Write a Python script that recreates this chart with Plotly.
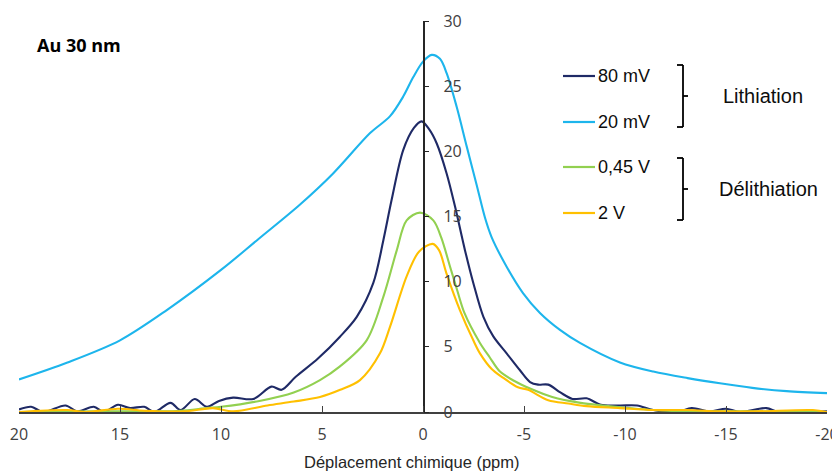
import plotly.graph_objects as go

# ---- data ----
x_20mV = [20, 17.6, 15, 12.7, 10, 8.2, 6.1, 4.45, 2.62, 1.63, 0.98, 0.48, -0.01, -0.43, -0.84, -1.17, -1.67, -2.16, -2.66, -3.07, -3.4, -4.14, -4.95, -5.79, -6.78, -7.77, -9.75, -11.4, -13.1, -14.7, -16.3, -18, -20]
y_20mV = [2.5, 3.8, 5.5, 7.8, 10.9, 13.2, 15.9, 18.3, 21.4, 22.7, 24.2, 25.7, 26.9, 27.4, 27.1, 26.0, 23.4, 20.4, 17.4, 14.9, 13.4, 11.15, 9.13, 7.6, 6.3, 5.3, 3.8, 3.1, 2.6, 2.2, 1.85, 1.6, 1.45]

x_80mV = [20, 19.4, 18.8, 17.7, 17.1, 16.3, 15.8, 15.1, 14.5, 13.8, 13.3, 12.5, 12.0, 11.3, 10.7, 10.1, 9.4, 8.4, 7.5, 7.0, 6.3, 5.2, 4.11, 3.28, 2.46, 1.96, 1.55, 0.98, 0.45, 0.07, -0.3, -0.68, -1.17, -1.58, -2.08, -2.49, -2.99, -3.48, -4.14, -4.8, -5.3, -5.7, -6.2, -6.8, -7.4, -8.1, -8.8, -9.75, -10.6, -11.4, -12.6, -13.3, -14.2, -15.0, -15.7, -17.0, -17.6, -20]
y_80mV = [0.2, 0.4, 0.0, 0.5, 0.05, 0.4, 0.0, 0.55, 0.3, 0.4, 0.0, 0.7, 0.15, 1.0, 0.4, 0.85, 1.1, 1.0, 1.95, 1.7, 2.7, 4.1, 5.78, 7.3, 9.9, 13.2, 16.3, 20.1, 21.8, 22.3, 21.7, 20.6, 18.3, 15.8, 12.4, 9.9, 7.3, 5.8, 4.5, 3.2, 2.3, 2.1, 2.1, 1.5, 1.0, 1.05, 0.55, 0.5, 0.5, 0.15, 0.0, 0.3, 0.05, 0.25, 0.0, 0.3, 0.0, 0.05]

x_045V = [20, 16, 13, 12, 10.7, 10, 8.1, 6.4, 5.1, 4.11, 2.79, 1.96, 1.3, 0.81, 0.15, -0.51, -0.9, -1.34, -1.7, -2.05, -2.82, -3.3, -3.81, -4.5, -5.3, -6.4, -7.8, -8.9, -11.4, -13, -16, -20]
y_045V = [0.0, 0.05, 0.05, 0.1, 0.3, 0.4, 0.85, 1.5, 2.45, 3.5, 5.5, 8.85, 12.4, 14.7, 15.3, 14.7, 13.4, 11.15, 9.3, 7.6, 5.3, 4.2, 3.1, 2.4, 1.8, 1.15, 0.7, 0.5, 0.15, 0.05, 0.05, 0.0]

x_2V = [20, 17.6, 16.7, 15.1, 13.8, 11.8, 10.4, 9.4, 7.7, 6.4, 5.1, 4.1, 3.12, 2.13, 1.63, 0.81, 0.2, -0.48, -0.8, -1.17, -1.83, -2.49, -2.82, -3.4, -3.9, -4.7, -5.2, -6.2, -7.2, -8.1, -9.75, -11.4, -13.1, -14.7, -16.5, -19.3, -20]
y_2V = [0.0, 0.15, 0.0, 0.25, 0.1, 0.05, 0.3, 0.05, 0.5, 0.8, 1.15, 1.7, 2.45, 4.5, 6.55, 10.4, 12.3, 12.9, 12.4, 10.6, 7.8, 5.5, 4.5, 3.3, 2.7, 1.9, 1.7, 0.9, 0.65, 0.45, 0.3, 0.15, 0.15, 0.05, 0.05, 0.15, 0.0]

series_names = ["80 mV", "20 mV", "0,45 V", "2 V"]
series_colors = ["#1F2A66", "#1DB5EC", "#92D050", "#FFC000"]
x_ticks = [20, 15, 10, 5, 0, -5, -10, -15, -20]
x_ticklabels = ["20", "15", "10", "5", "0", "-5", "-10", "-15", "-20"]
y_ticks = [0, 5, 10, 15, 20, 25, 30]

# The page body has an 8px margin, so the figure is 8px smaller and every
# layout position (given in window pixels) is shifted by that offset.
OFF = 8
W, H = 840 - OFF, 473 - OFF
def px(x):
    return (x - OFF) / W
def py(y):
    return 1 - (y - OFF) / H

TICKFONT = "'Open Sans', sans-serif"
LEGFONT = "'Liberation Sans', Arial, sans-serif"
fig = go.Figure()

data = {
    "80 mV": (x_80mV, y_80mV),
    "20 mV": (x_20mV, y_20mV),
    "0,45 V": (x_045V, y_045V),
    "2 V": (x_2V, y_2V),
}
for name in ["20 mV", "80 mV", "0,45 V", "2 V"]:
    i = series_names.index(name)
    xs, ys = data[name]
    fig.add_trace(go.Scatter(x=xs, y=ys, mode="lines", name=name,
                             line=dict(color=series_colors[i], width=2.1, shape="spline", smoothing=0.9),
                             showlegend=False, hoverinfo="skip"))

fig.update_layout(
    width=W, height=H,
    margin=dict(l=0, r=0, t=0, b=0, autoexpand=False),
    paper_bgcolor="white", plot_bgcolor="white",
    showlegend=False,
    font=dict(family=TICKFONT, color="#404040", size=16),
    xaxis=dict(
        domain=[px(19), px(827)],
        range=[20, -20],
        tickvals=x_ticks, ticktext=x_ticklabels,
        ticks="inside", ticklen=6, tickcolor="#404040", tickwidth=1.2,
        showline=True, linecolor="#404040", linewidth=1.5,
        showgrid=False, zeroline=False, automargin=False,
        tickfont=dict(size=16, color="#404040", family=TICKFONT),
        ticklabelstandoff=7,
    ),
    yaxis=dict(
        domain=[py(412), py(21)],
        range=[0, 30],
        tickvals=y_ticks,
        anchor="free", position=px(423.5), side="right",
        ticks="outside", ticklen=5, tickcolor="#262626", tickwidth=1.2,
        showline=True, linecolor="#262626", linewidth=1.5,
        showgrid=False, zeroline=False, automargin=False,
        tickfont=dict(size=16, color="#404040", family=TICKFONT),
        ticklabelstandoff=11,
    ),
)

# x-axis title
fig.add_annotation(x=px(412), y=py(462), xref="paper", yref="paper", xanchor="center", yanchor="middle",
                   text="Déplacement chimique (ppm)", showarrow=False,
                   font=dict(size=16.5, color="#262626", family=LEGFONT))

# "Au 30 nm" label
fig.add_annotation(x=px(35), y=py(45), xref="paper", yref="paper", xanchor="left", yanchor="middle",
                   text="<b>Au 30 nm</b>", showarrow=False, font=dict(size=18, color="#000000", family=TICKFONT))

# custom legend
leg_y = [76, 122, 167, 213]
for i, name in enumerate(series_names):
    fig.add_shape(type="line", xref="paper", yref="paper",
                  x0=px(563), x1=px(595), y0=py(leg_y[i]), y1=py(leg_y[i]),
                  line=dict(color=series_colors[i], width=2.2))
    fig.add_annotation(x=px(596), y=py(leg_y[i]), xref="paper", yref="paper", xanchor="left", yanchor="middle",
                       text=name, showarrow=False, font=dict(size=18, color="#0d0d0d", family=LEGFONT))

groups = [("Lithiation", 65, 127, 763), ("Délithiation", 158, 220, 768)]
for label, y0, y1, tx in groups:
    ym = (y0 + y1) / 2
    for seg in [((677, y0), (683, y0)), ((683, y0), (683, y1)), ((677, y1), (683, y1)), ((683, ym), (688, ym))]:
        (a, b), (c, d) = seg
        fig.add_shape(type="line", xref="paper", yref="paper",
                      x0=px(a), y0=py(b), x1=px(c), y1=py(d),
                      line=dict(color="#000000", width=1.8))
    fig.add_annotation(x=px(tx), y=py(ym), xref="paper", yref="paper", xanchor="center", yanchor="middle",
                       text=label, showarrow=False, font=dict(size=20, color="#0d0d0d", family=LEGFONT))

fig.write_html("out.html")
